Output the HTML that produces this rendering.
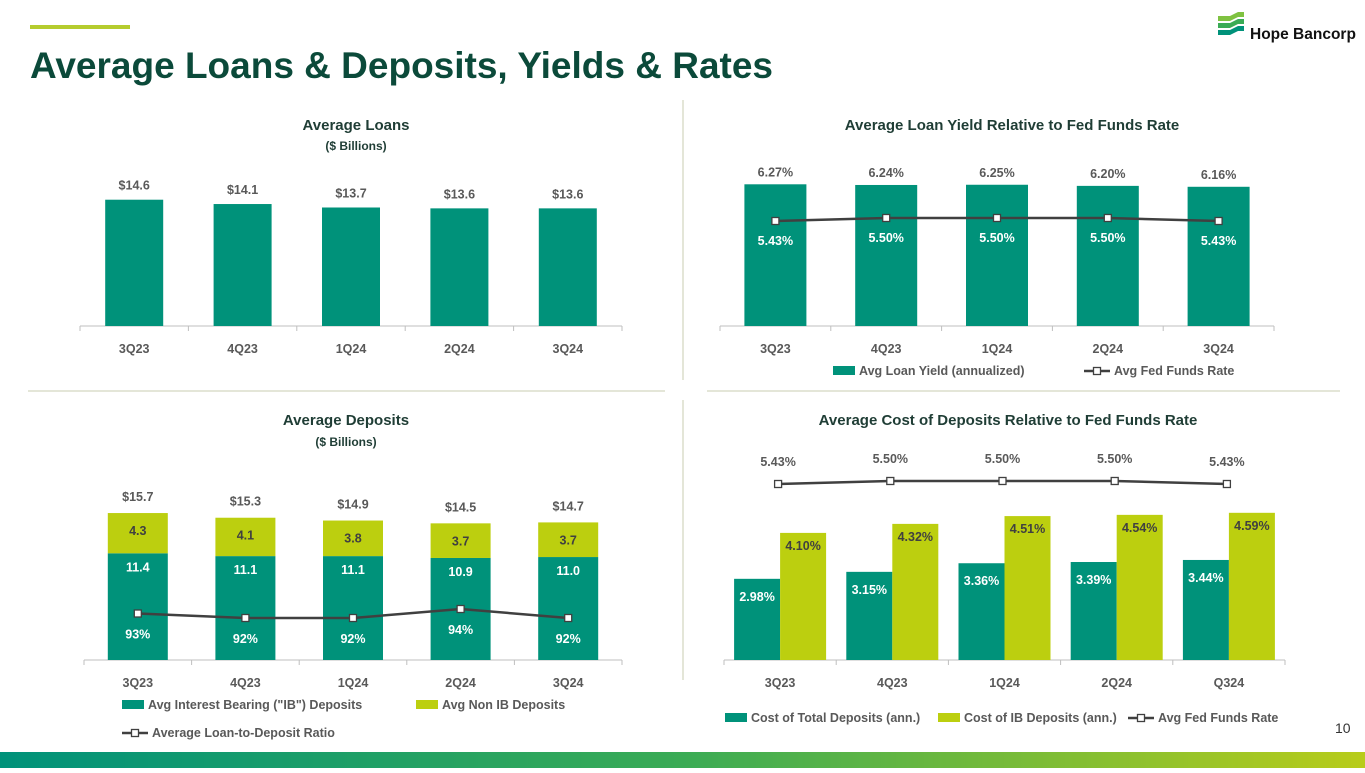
<!DOCTYPE html>
<html><head><meta charset="utf-8"><style>
body{margin:0;width:1365px;height:768px;overflow:hidden;background:#fff;font-family:"Liberation Sans",sans-serif}
svg text{font-family:"Liberation Sans",sans-serif;font-weight:bold}
</style></head><body>
<svg id="s" width="1365" height="768" viewBox="0 0 1365 768">
<defs><linearGradient id="g" x1="0" x2="1"><stop offset="0" stop-color="#00927a"/><stop offset="0.5" stop-color="#3aab55"/><stop offset="1" stop-color="#b8cc1a"/></linearGradient></defs>
<rect x="30" y="25" width="100" height="4" fill="#b5cc2e"/>
<text x="30" y="78" font-size="37" fill="#0b4a3a">Average Loans &amp; Deposits, Yields &amp; Rates</text>
<g>
<path d="M1218 16 h12 l8-4 h6 v5 h-6 l-8 4 h-12z" fill="#7fc241"/>
<path d="M1218 23 h12 l8-4 h6 v5 h-6 l-8 4 h-12z" fill="#3aab55"/>
<path d="M1218 30 h12 l8-4 h6 v5 h-6 l-8 4 h-12z" fill="#00927a"/>
<text x="1250" y="39" font-size="15.5" fill="#111">Hope Bancorp</text>
</g>
<rect x="0" y="752" width="1365" height="16" fill="url(#g)"/>
<text x="1335" y="733" font-size="14" fill="#333" style="font-weight:normal">10</text>
<line x1="28" y1="391" x2="665" y2="391" stroke="#c9cdb0"/>
<line x1="707" y1="391" x2="1340" y2="391" stroke="#c9cdb0"/>
<line x1="683" y1="100" x2="683" y2="380" stroke="#c9cdb0"/>
<line x1="683" y1="400" x2="683" y2="680" stroke="#c9cdb0"/>
</svg>
<script>
const cats=["3Q23","4Q23","1Q24","2Q24","3Q24"];
const cats4=["3Q23","4Q23","1Q24","2Q24","Q324"];
const loans=[14.6,14.1,13.7,13.6,13.6];
const loanYield=[6.27,6.24,6.25,6.20,6.16];
const fedFunds=[5.43,5.50,5.50,5.50,5.43];
const ibDep=[11.4,11.1,11.1,10.9,11.0];
const nonIbDep=[4.3,4.1,3.8,3.7,3.7];
const totalDep=[15.7,15.3,14.9,14.5,14.7];
const ldRatio=[93,92,92,94,92];
const costTotal=[2.98,3.15,3.36,3.39,3.44];
const costIB=[4.10,4.32,4.51,4.54,4.59];

const S=document.getElementById('s');const NS="http://www.w3.org/2000/svg";
const TEAL="#00927a",LIME="#bccf0f",GRAY="#595959";
function mk(t,a,txt){const e=document.createElementNS(NS,t);for(const k in a)e.setAttribute(k,a[k]);if(txt!==undefined)e.textContent=txt;S.appendChild(e);return e;}
function txt(x,y,s,fill,size,anchor){return mk('text',{x:x,y:y,fill:fill,'font-size':size||12.5,'text-anchor':anchor||'middle'},s);}
function axis(x0,x1,y,labels,name){
 const l=mk('line',{x1:x0,y1:y,x2:x1,y2:y,stroke:'#bfbfbf'});
 
 
 const w=(x1-x0)/labels.length;
 for(let i=0;i<=labels.length;i++){const t=mk('line',{x1:x0+i*w,y1:y,x2:x0+i*w,y2:y+5,stroke:'#bfbfbf'});
 
 }
 labels.forEach((c,i)=>{const t=txt(x0+w*(i+.5),y+27,c,GRAY);
 
 });
 return i=>x0+w*(i+.5);
}
function marker(x,y){const r=mk('rect',{x:x-3.5,y:y-3.5,width:7,height:7,fill:'#fff',stroke:'#404040','stroke-width':1.3});
 
 }
function line(xs,ys,name){const p=mk('polyline',{points:xs.map((x,i)=>x+','+ys[i]).join(' '),fill:'none',stroke:'#404040','stroke-width':2.5});
 
 
 xs.forEach((x,i)=>marker(x,ys[i]));}
function title(x,y,s,name){const t=txt(x,y,s,'#1f3d35',15);
 
 }
function legSq(x,y,c,s){const r=mk('rect',{x:x,y:y-9,width:22,height:9,fill:c});
 
 
 const t=txt(x+26,y,s,GRAY,12.5,'start');
 
 }
function legLine(x,y,s){const l=mk('line',{x1:x,y1:y-4,x2:x+26,y2:y-4,stroke:'#404040','stroke-width':2.5});
 
 
 marker(x+13,y-4);
 const t=txt(x+30,y,s,GRAY,12.5,'start');
 
 }

// Chart 1
title(356,130,"Average Loans",'loans-title');
{const t=txt(356,150,"($ Billions)",'#1f3d35',12);}
{const base=326,X=axis(80,622,base,cats,'loans'),Y=v=>base-v*8.65;
 loans.forEach((v,i)=>{const r=mk('rect',{x:X(i)-29,y:Y(v),width:58,height:base-Y(v),fill:TEAL});
 
 
 const t=txt(X(i),Y(v)-10,'$'+v.toFixed(1),GRAY);
 
 });}
// Chart 2
title(1012,130,"Average Loan Yield Relative to Fed Funds Rate",'yield-title');
{const base=326,X=axis(720,1274,base,cats,'yield'),Y=v=>base-v*22.6,L=v=>221-(v-5.43)*43;
 loanYield.forEach((v,i)=>{const r=mk('rect',{x:X(i)-31,y:Y(v),width:62,height:base-Y(v),fill:TEAL});
 
 
 const t=txt(X(i),Y(v)-8,v.toFixed(2)+'%',GRAY);
 
 });
 const xs=cats.map((c,i)=>X(i));line(xs,fedFunds.map(L),'fed-funds-line');
 fedFunds.forEach((v,i)=>{const t=txt(X(i),L(v)+24,v.toFixed(2)+'%','#fff');
 
 });
 legSq(833,375,TEAL,"Avg Loan Yield (annualized)");legLine(1084,375,"Avg Fed Funds Rate");}
// Chart 3
title(346,425,"Average Deposits",'deposits-title');
{const t=txt(346,446,"($ Billions)",'#1f3d35',12);}
{const base=660,X=axis(84,622,base,cats,'deposits'),k=9.36,Y=v=>base-v*k,L=v=>618-(v-92)*4.5;
 cats.forEach((c,i)=>{const y1=Y(ibDep[i]),y2=y1-nonIbDep[i]*k;
 const a=mk('rect',{x:X(i)-30,y:y1,width:60,height:base-y1,fill:TEAL});
 
 
 const b=mk('rect',{x:X(i)-30,y:y2,width:60,height:y1-y2,fill:LIME});
 
 
 const t1=txt(X(i),y1+18,ibDep[i].toFixed(1),'#fff');
 const t2=txt(X(i),y2+22,nonIbDep[i].toFixed(1),'#404040');
 const t3=txt(X(i),y2-12,'$'+totalDep[i].toFixed(1),GRAY);});
 line(cats.map((c,i)=>X(i)),ldRatio.map(L),'loan-deposit-ratio-line');
 ldRatio.forEach((v,i)=>{const t=txt(X(i),L(v)+25,v+'%','#fff');});
 legSq(122,709,TEAL,'Avg Interest Bearing ("IB") Deposits');legSq(416,709,LIME,'Avg Non IB Deposits');legLine(122,737,'Average Loan-to-Deposit Ratio');}
// Chart 4
title(1008,425,"Average Cost of Deposits Relative to Fed Funds Rate",'cost-title');
{const base=660,X=axis(724,1285,base,cats4,'cost'),Y=v=>base-(v-1)*41,L=v=>484-(v-5.43)*43;
 cats4.forEach((c,i)=>{const yt=Y(costTotal[i]),yi=Y(costIB[i]);
 const a=mk('rect',{x:X(i)-46,y:yt,width:46,height:base-yt,fill:TEAL});
 
 
 const b=mk('rect',{x:X(i),y:yi,width:46,height:base-yi,fill:LIME});
 
 
 const t1=txt(X(i)-23,yt+22,costTotal[i].toFixed(2)+'%','#fff');
 const t2=txt(X(i)+23,yi+17,costIB[i].toFixed(2)+'%','#404040');});
 const xs=cats4.map((c,i)=>X(i)-2);line(xs,fedFunds.map(L),'cost-fed-funds-line');
 fedFunds.forEach((v,i)=>{const t=txt(xs[i],L(v)-18,v.toFixed(2)+'%',GRAY);});
 legSq(725,722,TEAL,"Cost of Total Deposits (ann.)");legSq(938,722,LIME,"Cost of IB Deposits (ann.)");legLine(1128,722,"Avg Fed Funds Rate");}
</script>
</body></html>
